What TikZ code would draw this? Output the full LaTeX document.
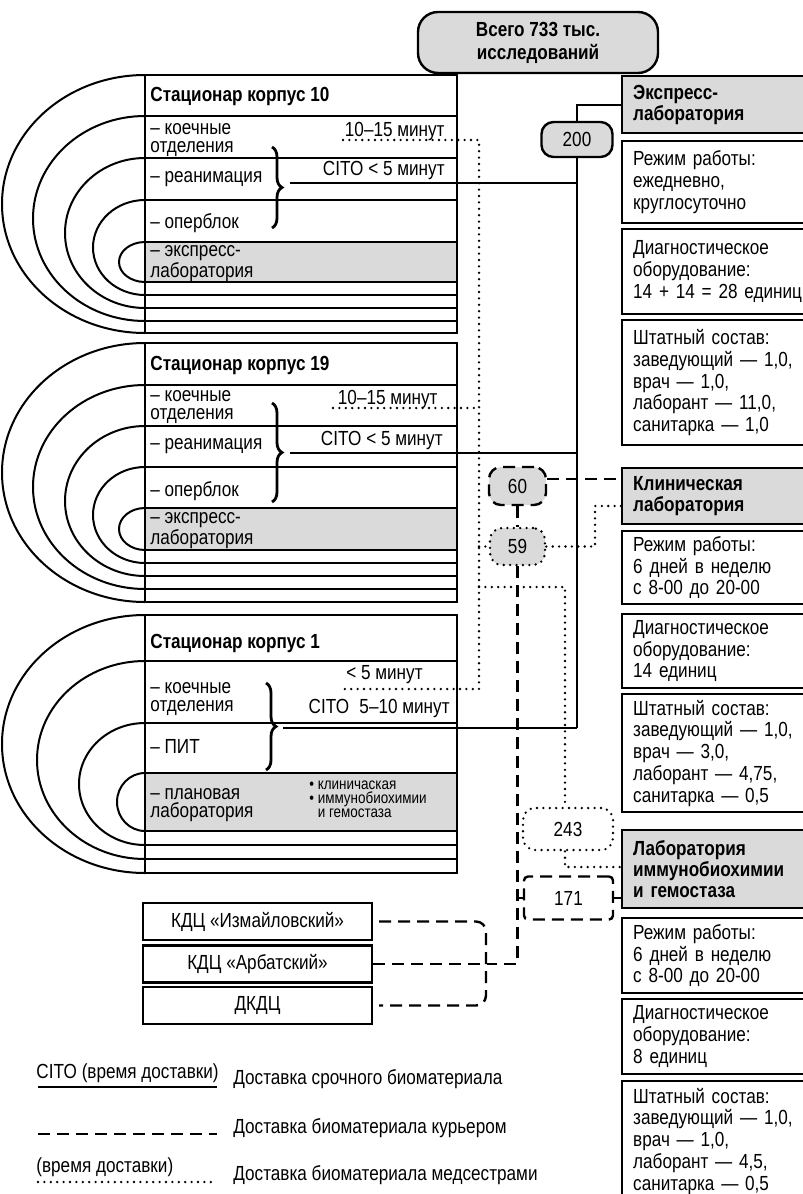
\documentclass[tikz,border=0pt]{standalone}
\usepackage{fontspec}
\setmainfont{Liberation Sans}[FakeStretch=0.84]
\usetikzlibrary{positioning,calc,decorations.pathreplacing}
\definecolor{labgrey}{HTML}{D9DAD9}

\begin{document}
\begin{tikzpicture}[x=0.5pt,y=-0.5pt,
    every node/.style={inner sep=0pt},
    txt/.style={anchor=west,align=left,font=\fontsize{10.2}{8.75}\selectfont},
    hd/.style={anchor=west,font=\bfseries\fontsize{10.2}{10}\selectfont},
    small/.style={anchor=west,align=left,font=\fontsize{8}{7.1}\selectfont},
    bld/.style={line width=1pt},
    info/.style={draw,line width=1.2pt,anchor=north west,text width=89pt,
      inner xsep=5.5pt,align=left,font=\fontsize{10.2}{10.85}\selectfont},
    lab/.style={info,fill=labgrey,font=\bfseries\fontsize{10.2}{10.5}\selectfont},
    num/.style={draw,line width=1.2pt,rounded corners=6pt,fill=labgrey,
      font=\fontsize{10.2}{10.85}\selectfont},
    cito/.style={line width=1pt},
    cour/.style={line width=1.2pt,dash pattern=on 6pt off 3.5pt},
    nurse/.style={line width=1.3pt,line cap=round,dash pattern=on 0pt off 3.2pt},
    brc/.style={line width=1.4pt,decorate,decoration={brace,amplitude=5pt}},
    kdc/.style={draw,line width=1.2pt,minimum width=114.5pt,minimum height=18.5pt,
      font=\fontsize{10.2}{10.85}\selectfont}
  ]
  \useasboundingbox (0,0) rectangle (803,1194);

  % top
  \node[num,minimum width=120pt,minimum height=30.5pt,rounded corners=10pt,
    align=center,font=\bfseries\fontsize{10.2}{11.5}\selectfont] (total) at (538,42.5)
    {Всего 733 тыс.\\исследований};

  % Стационар корпус 10
  \fill[labgrey] (145,242) rectangle (457,282);
  \draw[bld] (145,75) rectangle (457,333);
  \foreach \y in {116,158,200,242,282,295,308,321}
    \draw[bld] (145,\y) -- (457,\y);
  \foreach \t/\b/\r in {75/333/143,116/321/112,158/308/80,200/295/52,242/282/26}
    \draw[bld] (145,\t) arc[start angle=270,end angle=90,x radius=\r,y radius={(\b-\t)/2}];
  \node[hd] (b10) at (150,96) {Стационар корпус 10};
  \node[txt] (b10koe) at (150,140) {– коечные\\отделения};
  \node[txt] (b10rea) at (150,179) {– реанимация};
  \node[txt] (b10op) at (150,223) {– оперблок};
  \node[txt] (b10ex) at (150,264) {– экспресс-\\лаборатория};
  \node[txt,anchor=east] (b10t1) at (445,131) {10–15 минут};
  \node[txt,anchor=east] (b10t2) at (445,170) {CITO < 5 минут};
  \draw[brc] (272,147) -- (272,228);
  \coordinate (b10tip) at (290,183);

  % Стационар корпус 19
  \fill[labgrey] (145,508) rectangle (457,550);
  \draw[bld] (145,343) rectangle (457,602);
  \foreach \y in {385,426,467,508,550,563,576,589}
    \draw[bld] (145,\y) -- (457,\y);
  \foreach \t/\b/\r in {343/602/143,385/589/112,426/576/80,467/563/52,508/550/26}
    \draw[bld] (145,\t) arc[start angle=270,end angle=90,x radius=\r,y radius={(\b-\t)/2}];
  \node[hd] (b19) at (150,365) {Стационар корпус 19};
  \node[txt] (b19koe) at (150,407) {– коечные\\отделения};
  \node[txt] (b19rea) at (150,446) {– реанимация};
  \node[txt] (b19op) at (150,491) {– оперблок};
  \node[txt] (b19ex) at (150,531) {– экспресс-\\лаборатория};
  \node[txt,anchor=east] (b19t1) at (438,399) {10–15 минут};
  \node[txt,anchor=east] (b19t2) at (443,440) {CITO < 5 минут};
  \draw[brc] (272,403) -- (272,502);
  \coordinate (b19tip) at (290,453);

  % Стационар корпус 1
  \fill[labgrey] (145,773) rectangle (457,831);
  \draw[bld] (145,615) rectangle (457,873);
  \foreach \y in {661,723,773,831,845,859}
    \draw[bld] (145,\y) -- (457,\y);
  \foreach \t/\b/\r in {615/873/143,661/859/108,723/845/66,773/831/28}
    \draw[bld] (145,\t) arc[start angle=270,end angle=90,x radius=\r,y radius={(\b-\t)/2}];
  \node[hd] (b1) at (150,643) {Стационар корпус 1};
  \node[txt] (b1koe) at (150,699) {– коечные\\отделения};
  \node[txt] (b1pit) at (150,746) {– ПИТ};
  \node[txt] (b1pl) at (150,805) {– плановая\\лаборатория};
  \node[small] (b1list) at (309,799) {• клиничаская\\• иммунобиохимии\\\phantom{• }и гемостаза};
  \node[txt,anchor=east] (b1t1) at (423,675) {< 5 минут};
  \node[txt,anchor=east] (b1t2) at (450,708) {CITO\enspace 5–10 минут};
  \draw[brc] (266,683) -- (266,770);
  \coordinate (b1tip) at (283,728);

  % КДЦ
  \node[kdc] (kdc1) at (257.5,921.5) {КДЦ «Измайловский»};
  \node[kdc] (kdc2) at (257.5,964) {КДЦ «Арбатский»};
  \node[kdc] (kdc3) at (257.5,1005.5) {ДКДЦ};

  % laboratories
  \node[lab,minimum height=28.5pt] (exlab) at (621,75) {Экспресс-\\лаборатория};
  \node[info,minimum height=41pt] (exmode) at (621,140) {Режим работы:\\ежедневно,\\круглосуточно};
  \node[info,minimum height=42.5pt] (exequip) at (621,228) {Диагностическое\\оборудование:\\14 + 14 = 28 единиц};
  \node[info,minimum height=62.5pt] (exstaff) at (621,319) {Штатный состав:\\заведующий — 1,0,\\врач — 1,0,\\лаборант — 11,0,\\санитарка — 1,0};
  \node[lab,minimum height=28pt] (cllab) at (621,467) {Клиническая\\лаборатория};
  \node[info,minimum height=36.5pt] (clmode) at (621,530) {Режим работы:\\6 дней в неделю\\с 8-00 до 20-00};
  \node[info,minimum height=37pt] (clequip) at (621,613) {Диагностическое\\оборудование:\\14 единиц};
  \node[info,minimum height=59pt] (clstaff) at (621,693) {Штатный состав:\\заведующий — 1,0,\\врач — 3,0,\\лаборант — 4,75,\\санитарка — 0,5};
  \node[lab,minimum height=39pt] (imlab) at (621,829) {Лаборатория\\иммунобиохимии\\и гемостаза};
  \node[info,minimum height=37.5pt] (immode) at (621,917) {Режим работы:\\6 дней в неделю\\с 8-00 до 20-00};
  \node[info,minimum height=37.5pt] (imequip) at (621,998) {Диагностическое\\оборудование:\\8 единиц};
  \node[info,minimum height=60pt] (imstaff) at (621,1080) {Штатный состав:\\заведующий — 1,0,\\врач — 1,0,\\лаборант — 4,5,\\санитарка — 0,5};

  % counts
  \node[num,minimum width=35.5pt,minimum height=17.5pt] (n200) at (577,139.5) {200};
  \node[num,minimum width=28.5pt,minimum height=19pt,dash pattern=on 6pt off 3.5pt] (n60) at (517.5,486) {60};
  \node[num,minimum width=27.5pt,minimum height=18.5pt,line cap=round,dash pattern=on 0pt off 3.2pt,line width=1.3pt] (n59) at (517.5,546.5) {59};
  \node[num,fill=white,minimum width=45pt,minimum height=21pt,line cap=round,dash pattern=on 0pt off 3.2pt,line width=1.3pt] (n243) at (568,829) {243};
  \node[num,fill=white,rounded corners=2pt,minimum width=44.5pt,minimum height=21.5pt,dash pattern=on 6pt off 3.5pt] (n171) at (568.5,898) {171};

  % CITO
  \draw[cito] (n200) |- (exlab);
  \draw[cito] (n200) -- (n200 |- b1tip);
  \draw[cito] (b10tip) -- (b10tip -| n200);
  \draw[cito] (b19tip) -- (b19tip -| n200);
  \draw[cito] (b1tip) -- (b1tip -| n200);

  % courier
  \coordinate (n60r) at ([yshift=3.5pt]n60.east);
  \draw[cour] (n60r) -- (n60r -| cllab.west);
  \draw[cour] (n60) -- (n59);
  \coordinate (kdctip) at (490,964);
  \draw[cour] (n59) -- (n59 |- kdctip) -- (kdctip);
  \draw[cour] (n171.west) -- (n171.west -| n59);
  \draw[cour] (n171.east) -- (n171.east -| imlab.west);
  \coordinate (kdcbar) at (486,964);
  \draw[cour,rounded corners=5pt] ([xshift=3pt]kdc1.east) -- (kdc1.east -| kdcbar)
    -- (kdc3.east -| kdcbar) -- ([xshift=3pt]kdc3.east);
  \draw[cour] (kdc2) -- (kdctip);

  % nurses
  \coordinate (b10dot) at (343,140);
  \coordinate (b19dot) at (333,408);
  \coordinate (b1dot) at (343,689);
  \coordinate (ntop) at (479,140);
  \coordinate (nbot) at (479,689);
  \draw[nurse] (b10dot) -- (ntop) -- (nbot) -- (b1dot);
  \draw[nurse] (b19dot) -- (b19dot -| ntop);
  \draw[nurse] (n59 -| ntop) -- (n59);
  \coordinate (clin) at (595,506);
  \draw[nurse] (n59) -| (clin) -- (clin -| cllab.west);
  \coordinate (n243in) at (565,587);
  \draw[nurse] (n243in -| ntop) -- (n243in) -- (n243in |- n243.north);
  \coordinate (imin) at (565,867);
  \draw[nurse] (imin |- n243.south) -- (imin) -- (imin -| imlab.west);

  % legend
  \node[txt] (lg1) at (36,1073) {CITO (время доставки)};
  \draw[cito] (38,1087) coordinate (lgA) -- (217,1087);
  \node[txt] (lg1t) at (233,1079) {Доставка срочного биоматериала};
  \draw[cour] (38,1134) coordinate (lgB) -- (217,1134);
  \node[txt] (lg2t) at (233,1128) {Доставка биоматериала курьером};
  \node[txt] (lg3) at (36,1167) {(время доставки)};
  \draw[nurse] (38,1182) coordinate (lgC) -- (217,1182);
  \node[txt] (lg3t) at (233,1175) {Доставка биоматериала медсестрами};
\end{tikzpicture}
\end{document}
